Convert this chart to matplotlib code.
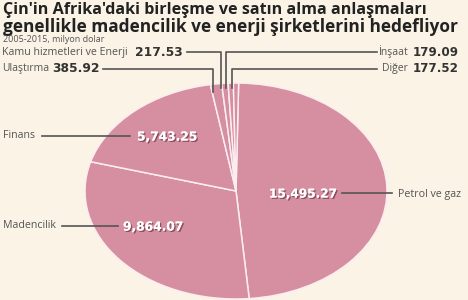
import matplotlib
matplotlib.use('Agg')
from matplotlib import pyplot as plt
import matplotlib.patheffects as pe

# data (million USD, 2005-2015)
sectors = ['Petrol ve gaz', 'Madencilik', 'Finans', 'Ulaştırma',
           'Kamu hizmetleri ve Enerji', 'İnşaat', 'Diğer']
values = [15495.27, 9864.07, 5743.25, 385.92, 217.53, 179.09, 177.52]

bg_color = '#faf3e6'
pie_color = '#d68ea1'
line_color = '#555555'
text_dark = '#333333'
text_gray = '#555555'

plt.rcParams['font.family'] = ['Open Sans', 'DejaVu Sans']
num_font = 'DejaVu Sans'

fig = plt.figure(figsize=(4.68, 3.0), dpi=100, facecolor=bg_color)

# pie axes, stretched into an ellipse
ax = fig.add_axes([85 / 468, 1 / 300, 302 / 468, 216 / 300])
ax.pie(values, colors=[pie_color] * len(values), startangle=89,
       counterclock=False,
       wedgeprops=dict(edgecolor='#fcedf1', linewidth=1.1))
ax.set_aspect('auto')
ax.set_xlim(-1, 1)
ax.set_ylim(-1, 1)
ax.axis('off')

# overlay axes in pixel coordinates for text and leader lines
ov = fig.add_axes([0, 0, 1, 1], facecolor='none')
ov.set_xlim(0, 468)
ov.set_ylim(300, 0)
ov.axis('off')

ov.text(3, 10, "Çin'in Afrika'daki birleşme ve satın alma anlaşmaları",
        fontsize=11.6, fontweight='bold', color='#222222', va='center')
ov.text(3, 27, "genellikle madencilik ve enerji şirketlerini hedefliyor",
        fontsize=12.4, fontweight='bold', color='#222222', va='center')
ov.text(3, 40, "2005-2015, milyon dolar", fontsize=6.5, color=text_gray,
        va='center')

shadow = [pe.withSimplePatchShadow(offset=(1, -1), shadow_rgbFace='#6a3445',
                                   alpha=0.7), pe.Normal()]


def fmt(v):
    return '{:,.2f}'.format(v)


# top labels
ov.text(2, 52, sectors[4], fontsize=7.7, color=text_gray, va='center')
ov.text(135, 52, fmt(values[4]), fontsize=8.8, fontweight='bold',
        family=num_font, color=text_dark, va='center')
ov.plot([187, 221, 221], [52, 52, 88], color=line_color, lw=1.2)

ov.text(2, 69, sectors[3], fontsize=7.5, color=text_gray, va='center')
ov.text(52, 69, fmt(values[3]), fontsize=8.8, fontweight='bold',
        family=num_font, color=text_dark, va='center')
ov.plot([103, 213, 213], [69, 69, 92], color=line_color, lw=1.2)

ov.text(459, 52, fmt(values[5]), fontsize=8.6, fontweight='bold',
        family=num_font, color=text_dark, va='center', ha='right')
ov.text(408, 52, sectors[5], fontsize=7.5, color=text_gray, va='center',
        ha='right')
ov.plot([377, 226, 226], [52, 52, 88], color=line_color, lw=1.2)

ov.text(459, 69, fmt(values[6]), fontsize=8.6, fontweight='bold',
        family=num_font, color=text_dark, va='center', ha='right')
ov.text(408, 69, sectors[6], fontsize=7.5, color=text_gray, va='center',
        ha='right')
ov.plot([377, 232, 232], [69, 69, 88], color=line_color, lw=1.2)

# side labels
ov.text(3, 135, sectors[2], fontsize=7.7, color=text_gray, va='center')
ov.plot([42, 130], [136, 136], color=line_color, lw=1.2)
ov.text(137, 137, fmt(values[2]), fontsize=8.8, fontweight='bold',
        family=num_font, color='white', va='center', path_effects=shadow)

ov.text(3, 226, sectors[1], fontsize=7.7, color=text_gray, va='center')
ov.plot([62, 118], [226, 226], color=line_color, lw=1.2)
ov.text(123, 227, fmt(values[1]), fontsize=8.8, fontweight='bold',
        family=num_font, color='white', va='center', path_effects=shadow)

ov.text(269, 194, fmt(values[0]), fontsize=8.7, fontweight='bold',
        family=num_font, color='white', va='center', path_effects=shadow)
ov.plot([342, 392], [193, 193], color=line_color, lw=1.2)
ov.text(398, 194, sectors[0], fontsize=7.7, color=text_gray, va='center')

plt.savefig('out.png', dpi=100, facecolor=bg_color)
